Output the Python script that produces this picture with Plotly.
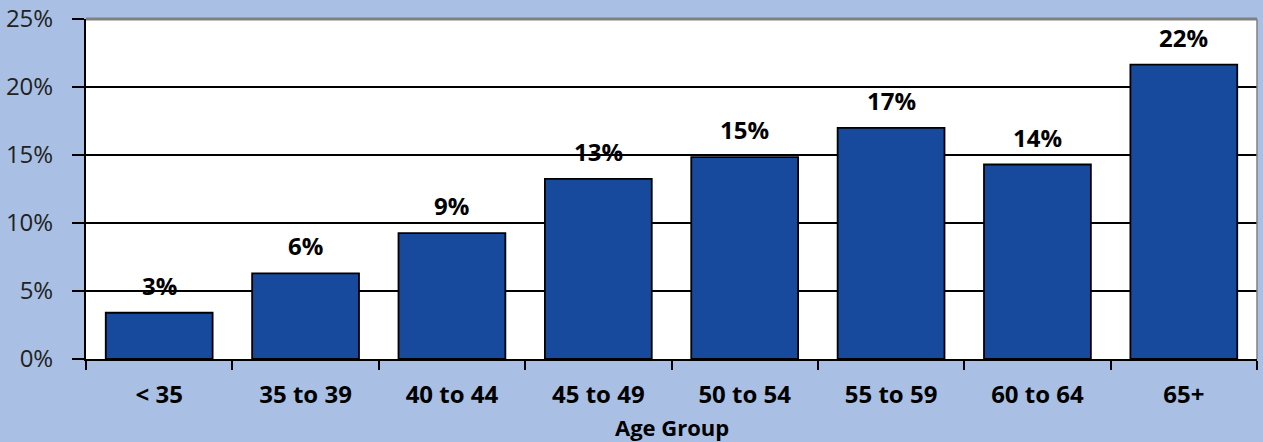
import plotly.graph_objects as go

categories = ["< 35", "35 to 39", "40 to 44", "45 to 49", "50 to 54", "55 to 59", "60 to 64", "65+"]
values = [3.4, 6.3, 9.25, 13.25, 14.85, 17.0, 14.3, 21.65]
labels = ["3%", "6%", "9%", "13%", "15%", "17%", "14%", "22%"]
y_ticks = [0, 5, 10, 15, 20, 25]
y_tick_labels = ["0%", "5%", "10%", "15%", "20%", "25%"]
x_title = "Age Group"

FONT = "Open Sans"
BG = "#A9C0E4"

fig = go.Figure()
fig.add_trace(go.Bar(
    x=categories, y=values,
    marker=dict(color="#174A9C", line=dict(color="#000000", width=1.8)),
    width=0.73,
    hoverinfo="skip",
))

for c, v, t in zip(categories, values, labels):
    fig.add_annotation(x=c, y=v, text=f"<b>{t}</b>", showarrow=False,
                       yanchor="bottom", yshift=9,
                       font=dict(family=FONT, size=24, color="#000000"))

# axis title as annotation below the tick labels
fig.add_annotation(x=0.5, y=0, xref="paper", yref="paper", text=f"<b>{x_title}</b>",
                   showarrow=False, yanchor="middle", yshift=-68,
                   font=dict(family=FONT, size=22, color="#000000"))

fig.update_layout(
    width=1263, height=442,
    margin=dict(l=86, r=6, t=19, b=83, autoexpand=False),
    paper_bgcolor=BG, plot_bgcolor="#FFFFFF",
    showlegend=False,
    font=dict(family=FONT, color="#000000"),
)
fig.update_xaxes(
    type="category", automargin=False,
    tickson="boundaries", ticks="outside", ticklen=9, tickwidth=2, tickcolor="#000000",
    showline=True, linecolor="#000000", linewidth=2,
    tickfont=dict(family=FONT, size=24, color="#000000", weight="bold"),
    ticklabelstandoff=13,
    showgrid=False,
)
fig.update_yaxes(
    range=[0, 25], tickvals=y_ticks, ticktext=y_tick_labels, automargin=False,
    ticks="outside", ticklen=12, tickwidth=1.5, tickcolor="#000000",
    showline=True, linecolor="#000000", linewidth=2,
    showgrid=True, gridcolor="#000000", gridwidth=1.5,
    tickfont=dict(family=FONT, size=24, color="#222222"),
    ticklabelstandoff=14,
    zeroline=False,
)
# plot-area frame on top and right (grey)
fig.add_shape(type="line", xref="paper", yref="paper", x0=0, x1=1, y0=1, y1=1,
              line=dict(color="#808080", width=3))
fig.add_shape(type="line", xref="paper", yref="paper", x0=1, x1=1, y0=0, y1=1,
              line=dict(color="#808080", width=1.5))

fig.write_html("out.html", config={"displayModeBar": False},
               post_script="document.body.style.margin='0';document.body.style.overflow='hidden';")
